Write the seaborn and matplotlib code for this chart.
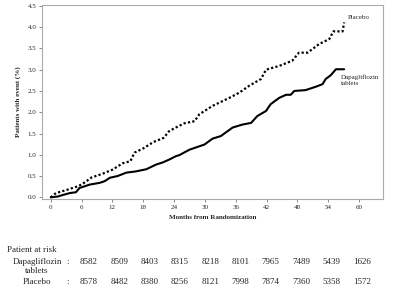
import matplotlib
matplotlib.use("Agg")
import matplotlib.pyplot as plt
import seaborn as sns
import pandas as pd

# cumulative event curves
months_placebo = [0, 1, 3, 5, 6, 8, 10, 12, 14, 15.5, 16.3, 18, 20, 22, 23, 24, 26, 28, 28.9,
                  31.5, 34.8, 36.7, 38.6, 40.9, 41.9, 44.5, 47.0, 48.3, 50, 52.2, 54.2, 55, 56.8, 57.1]
pct_placebo = [0, 0.1, 0.17, 0.25, 0.3, 0.47, 0.55, 0.65, 0.8, 0.85, 1.05, 1.15, 1.3, 1.4, 1.55, 1.62,
               1.74, 1.79, 1.95, 2.15, 2.34, 2.46, 2.62, 2.78, 3.0, 3.09, 3.21, 3.4, 3.4, 3.6, 3.72,
               3.9, 3.9, 4.11]
months_dapa = [0, 1.4, 2.2, 3.7, 4.9, 5.6, 7.6, 9.5, 10.5, 11.5, 13, 14.7, 16.6, 18.6, 20.5, 21.8,
               23.1, 24.4, 25, 27, 29.9, 31.5, 33.1, 35.4, 37.3, 39, 40.2, 41.9, 42.8, 44.5, 45.8,
               46.7, 47.4, 49.6, 51.6, 52.9, 53.5, 54.5, 55.5, 57.1]
pct_dapa = [0, 0.02, 0.05, 0.1, 0.12, 0.22, 0.3, 0.34, 0.38, 0.46, 0.5, 0.58, 0.61, 0.66, 0.77, 0.82,
            0.89, 0.97, 0.99, 1.12, 1.24, 1.38, 1.44, 1.64, 1.71, 1.75, 1.91, 2.03, 2.19, 2.34, 2.41,
            2.41, 2.5, 2.52, 2.6, 2.66, 2.78, 2.87, 3.01, 3.01]

x_ticks = [0, 6, 12, 18, 24, 30, 36, 42, 48, 54, 60]
y_ticks = [0.0, 0.5, 1.0, 1.5, 2.0, 2.5, 3.0, 3.5, 4.0, 4.5]

risk_dapa = [8582, 8509, 8403, 8315, 8218, 8101, 7965, 7489, 5439, 1626]
risk_placebo = [8578, 8482, 8380, 8256, 8121, 7998, 7874, 7360, 5358, 1572]

df_p = pd.DataFrame({"month": months_placebo, "pct": pct_placebo})
df_d = pd.DataFrame({"month": months_dapa, "pct": pct_dapa})

sns.set_style("white")
plt.rcParams["font.family"] = ["Liberation Serif", "DejaVu Serif"]

fig = plt.figure(figsize=(4, 2.94), dpi=100)
ax = fig.add_axes([0.105, 0.323, 0.853, 0.66])

sns.lineplot(data=df_p, x="month", y="pct", ax=ax, color="black", lw=1.6,
             linestyle=(0, (1, 1)), estimator=None)
sns.lineplot(data=df_d, x="month", y="pct", ax=ax, color="black", lw=1.5,
             estimator=None)

ax.set_xlim(-1.7, 64.7)
ax.set_ylim(-0.04, 4.52)
ax.set_xticks(x_ticks)
ax.set_yticks(y_ticks)
ax.set_yticklabels([f"{v:.1f}" for v in y_ticks])
ax.tick_params(axis="both", labelsize=5, length=2, width=0.6, color="#777777", pad=2,
               bottom=True, left=True)
for s in ax.spines.values():
    s.set_color("#aaaaaa")
    s.set_linewidth(0.8)

ax.set_xlabel("Months from Randomization", fontsize=5, fontweight="bold", labelpad=4)
ax.set_ylabel("Patients with event (%)", fontsize=5, fontweight="bold", labelpad=5)

ax.text(57.8, 4.22, "Placebo", fontsize=5, va="center", ha="left")
ax.text(56.4, 2.9, "Dapagliflozin\ntablets", fontsize=5, va="top", ha="left",
        linespacing=1.3)

# number at risk table
fs = 6.5
fig.text(7 / 400, 1 - 250 / 294, "Patient at risk", fontsize=fs, va="center", ha="left")
fig.text(37 / 400, 1 - 262.5 / 294, "Dapagliflozin", fontsize=fs, va="center", ha="center")
fig.text(37 / 400, 1 - 271 / 294, "tablets", fontsize=fs, va="center", ha="center")
fig.text(37 / 400, 1 - 281.5 / 294, "Placebo", fontsize=fs, va="center", ha="center")
fig.text(68 / 400, 1 - 262.5 / 294, ":", fontsize=fs, va="center", ha="center")
fig.text(68 / 400, 1 - 281.5 / 294, ":", fontsize=fs, va="center", ha="center")
for i, (a, b) in enumerate(zip(risk_dapa, risk_placebo)):
    xpos = (89 + i * 30.3) / 400
    fig.text(xpos, 1 - 262.5 / 294, str(a), fontsize=fs, va="center", ha="center")
    fig.text(xpos, 1 - 281.5 / 294, str(b), fontsize=fs, va="center", ha="center")

fig.savefig("out.png", dpi=100)
